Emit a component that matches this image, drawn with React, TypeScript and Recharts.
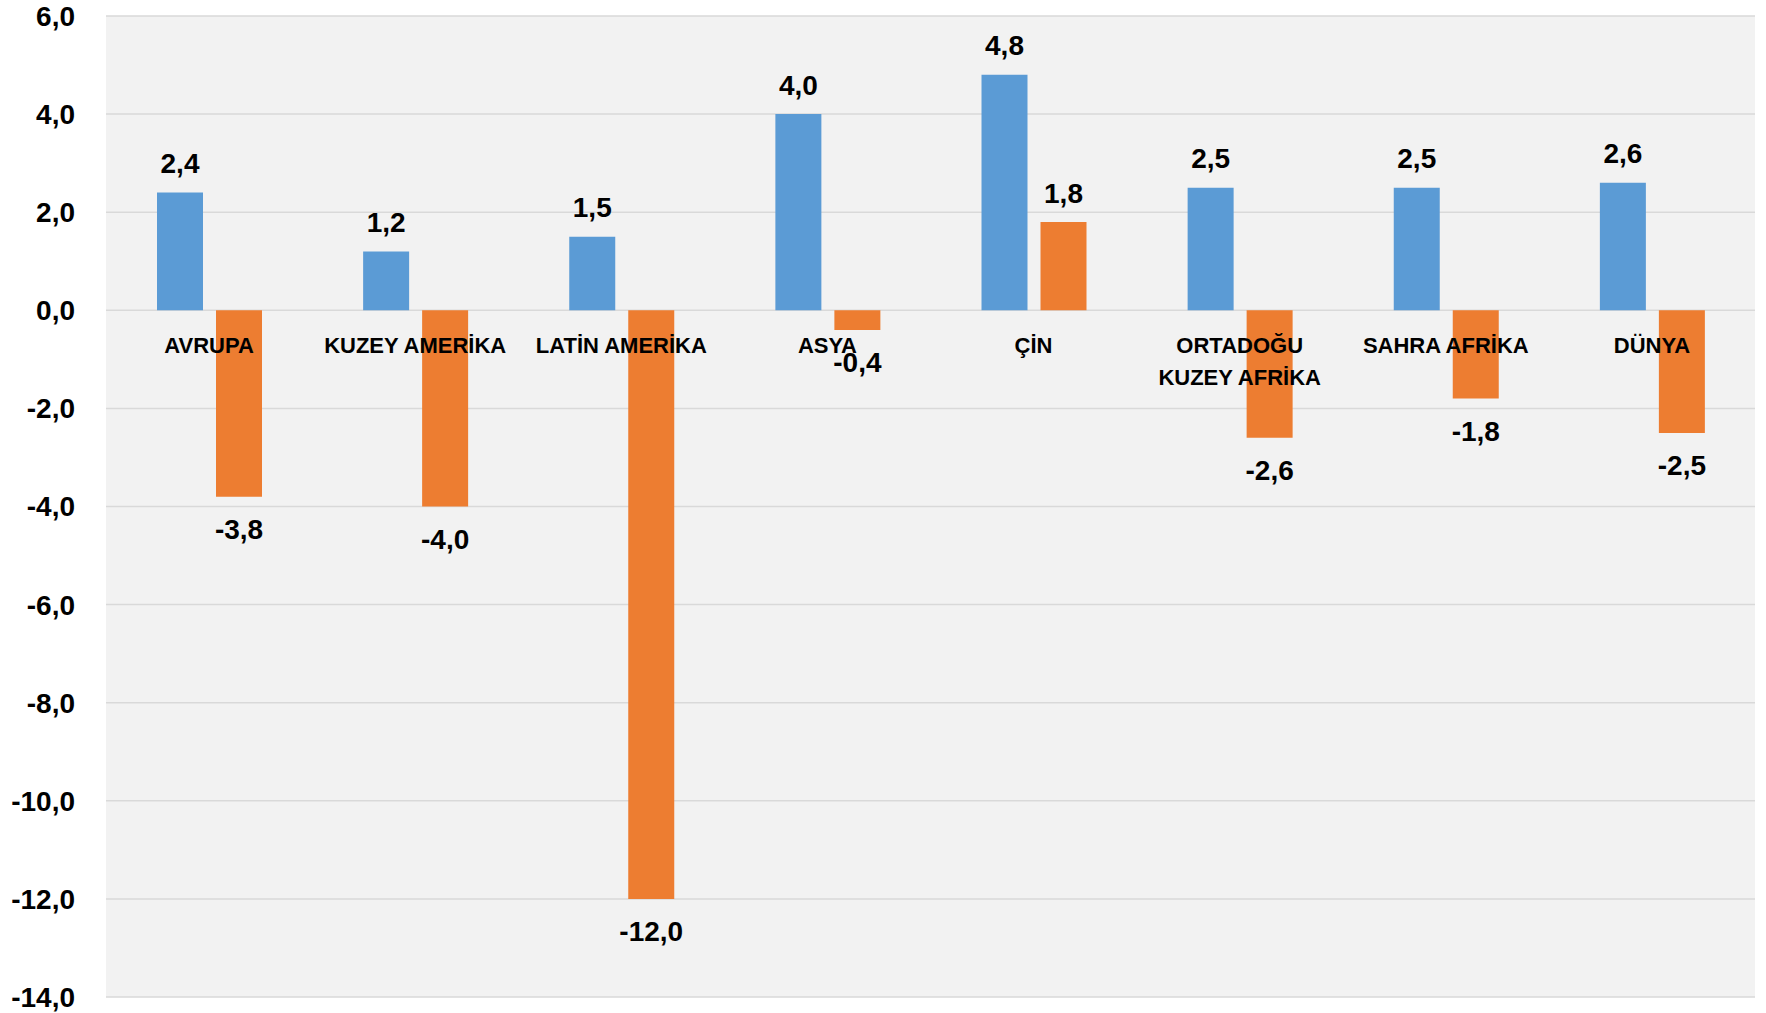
import React from "react";
import {
  BarChart,
  Bar,
  CartesianGrid,
  XAxis,
  YAxis,
  LabelList,
} from "recharts";

const regions = [
  "AVRUPA",
  "KUZEY AMERİKA",
  "LATİN AMERİKA",
  "ASYA",
  "ÇİN",
  "ORTADOĞU\nKUZEY AFRİKA",
  "SAHRA AFRİKA",
  "DÜNYA",
];
const blueValues = [2.4, 1.2, 1.5, 4.0, 4.8, 2.5, 2.5, 2.6];
const orangeValues = [-3.8, -4.0, -12.0, -0.4, 1.8, -2.6, -1.8, -2.5];
const yTicks = [6, 4, 2, 0, -2, -4, -6, -8, -10, -12, -14];

const data = regions.map((name, i) => ({
  name,
  blue: blueValues[i],
  orange: orangeValues[i],
}));

const W = 1766;
const H = 1013;
const X_AXIS_H = 16;
const margin = { top: 16, right: 11, bottom: 0, left: 0 };
const plotH = H - margin.top - margin.bottom - X_AXIS_H;
const yMax = 6;
const yMin = -14;
// pixel row of the zero line, for the category labels that sit under it
const zeroY = margin.top + ((yMax - 0) / (yMax - yMin)) * plotH;

const FONT = "'Liberation Sans', Arial, sans-serif";
const fmt = (v: number) => v.toFixed(1).replace(".", ",");

function CategoryTick(props: any) {
  const { x, payload } = props;
  const lines = String(payload.value).split("\n");
  return (
    <text
      x={x}
      y={zeroY + 43}
      textAnchor="middle"
      fontFamily={FONT}
      fontWeight="bold"
      fontSize={22}
      fill="#000"
    >
      {lines.map((l, i) => (
        <tspan key={i} x={x} dy={i === 0 ? 0 : 32}>
          {l}
        </tspan>
      ))}
    </text>
  );
}

function ValueLabel(props: any) {
  const { x, y, width, height, value } = props;
  const top = Math.min(y, y + height);
  const bottom = Math.max(y, y + height);
  const cy = value >= 0 ? top - 29 : bottom + 33;
  return (
    <text
      x={x + width / 2}
      y={cy}
      textAnchor="middle"
      dominantBaseline="central"
      fontFamily={FONT}
      fontWeight="bold"
      fontSize={28}
      fill="#000"
    >
      {fmt(value)}
    </text>
  );
}

export default function App() {
  return (
    <div style={{ position: "absolute", left: 0, top: 0, background: "#fff" }}>
      <BarChart
        width={W}
        height={H}
        data={data}
        margin={margin}
        barSize={46}
        barGap={13}
      >
        <CartesianGrid
          vertical={false}
          fill="#f2f2f2"
          stroke="#d9d9d9"
          strokeWidth={1.5}
        />
        <YAxis
          width={106}
          domain={[yMin, yMax]}
          ticks={yTicks}
          interval={0}
          axisLine={false}
          tickLine={false}
          tickSize={0}
          tickMargin={31}
          tickFormatter={fmt}
          tick={{
            fontFamily: FONT,
            fontWeight: "bold",
            fontSize: 28,
            fill: "#000",
          }}
        />
        <Bar dataKey="blue" fill="#5b9bd5" isAnimationActive={false}>
          <LabelList dataKey="blue" content={<ValueLabel />} />
        </Bar>
        <Bar dataKey="orange" fill="#ed7d31" isAnimationActive={false}>
          <LabelList dataKey="orange" content={<ValueLabel />} />
        </Bar>
        <XAxis
          dataKey="name"
          height={X_AXIS_H}
          axisLine={false}
          tickLine={false}
          interval={0}
          tick={<CategoryTick />}
        />
      </BarChart>
    </div>
  );
}
